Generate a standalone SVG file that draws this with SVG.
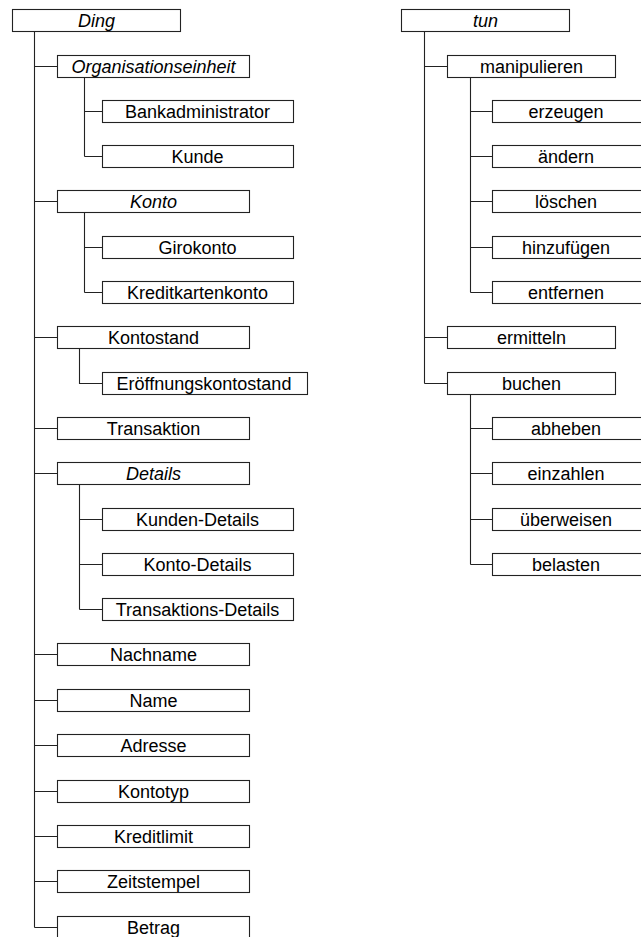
<svg xmlns="http://www.w3.org/2000/svg" width="641" height="937" viewBox="0 0 641 937">
<style>
rect{fill:#fff;stroke:#222;stroke-width:1.1}
text{font-family:"Liberation Sans",Arial,sans-serif;font-size:18px;text-anchor:middle;fill:#000}
.i{font-style:italic}
#connectors path{fill:none;stroke:#222;stroke-width:1.1}
</style>
<rect x="0" y="0" width="641" height="937" style="fill:#fff;stroke:none"/>
<g id="connectors">
<path d="M34.5 31.5V927.5"/>
<path d="M34.5 66.5H57.5M34.5 201.5H57.5M34.5 337.5H57.5M34.5 428.5H57.5M34.5 473.5H57.5M34.5 654.5H57.5M34.5 700.5H57.5M34.5 745.5H57.5M34.5 791.5H57.5M34.5 836.5H57.5M34.5 881.5H57.5M34.5 927.5H57.5"/>
<path d="M84.5 77.5V156.5M84.5 111.5H102.5M84.5 156.5H102.5"/>
<path d="M84.5 212.5V292.5M84.5 247.5H102.5M84.5 292.5H102.5"/>
<path d="M79.5 348.5V383.5H102.5"/>
<path d="M79.5 484.5V609.5M79.5 519.5H102.5M79.5 564.5H102.5M79.5 609.5H102.5"/>
<path d="M424.5 31.5V383.5M424.5 66.5H447.5M424.5 337.5H447.5M424.5 383.5H447.5"/>
<path d="M470.5 77.5V292.5M470.5 111.5H492.5M470.5 156.5H492.5M470.5 201.5H492.5M470.5 247.5H492.5M470.5 292.5H492.5"/>
<path d="M470.5 394.5V564.5M470.5 428.5H492.5M470.5 473.5H492.5M470.5 519.5H492.5M470.5 564.5H492.5"/>
</g>
<g id="ding"><rect x="12.5" y="9.5" width="168" height="22"/><text class="i" x="96.5" y="27">Ding</text></g>
<g id="organisationseinheit"><rect x="57.5" y="55.5" width="192" height="22"/><text class="i" x="153.5" y="73">Organisationseinheit</text></g>
<g id="bankadministrator"><rect x="102.5" y="100.5" width="191" height="22"/><text x="197.5" y="118">Bankadministrator</text></g>
<g id="kunde"><rect x="102.5" y="145.5" width="191" height="22"/><text x="197.5" y="163">Kunde</text></g>
<g id="konto"><rect x="57.5" y="190.5" width="192" height="22"/><text class="i" x="153.5" y="208">Konto</text></g>
<g id="girokonto"><rect x="102.5" y="236.5" width="191" height="22"/><text x="197.5" y="254">Girokonto</text></g>
<g id="kreditkartenkonto"><rect x="102.5" y="281.5" width="191" height="22"/><text x="197.5" y="299">Kreditkartenkonto</text></g>
<g id="kontostand"><rect x="57.5" y="326.5" width="192" height="22"/><text x="153.5" y="344">Kontostand</text></g>
<g id="eroeffnungskontostand"><rect x="102.5" y="372.5" width="205" height="22"/><text x="204" y="390">Eröffnungskontostand</text></g>
<g id="transaktion"><rect x="57.5" y="417.5" width="192" height="22"/><text x="153.5" y="435">Transaktion</text></g>
<g id="details"><rect x="57.5" y="462.5" width="192" height="22"/><text class="i" x="153.5" y="480">Details</text></g>
<g id="kunden-details"><rect x="102.5" y="508.5" width="191" height="22"/><text x="197.5" y="526">Kunden-Details</text></g>
<g id="konto-details"><rect x="102.5" y="553.5" width="191" height="22"/><text x="197.5" y="571">Konto-Details</text></g>
<g id="transaktions-details"><rect x="102.5" y="598.5" width="191" height="22"/><text x="197.5" y="616">Transaktions-Details</text></g>
<g id="nachname"><rect x="57.5" y="643.5" width="192" height="22"/><text x="153.5" y="661">Nachname</text></g>
<g id="name"><rect x="57.5" y="689.5" width="192" height="22"/><text x="153.5" y="707">Name</text></g>
<g id="adresse"><rect x="57.5" y="734.5" width="192" height="22"/><text x="153.5" y="752">Adresse</text></g>
<g id="kontotyp"><rect x="57.5" y="780.5" width="192" height="22"/><text x="153.5" y="798">Kontotyp</text></g>
<g id="kreditlimit"><rect x="57.5" y="825.5" width="192" height="22"/><text x="153.5" y="843">Kreditlimit</text></g>
<g id="zeitstempel"><rect x="57.5" y="870.5" width="192" height="22"/><text x="153.5" y="888">Zeitstempel</text></g>
<g id="betrag"><rect x="57.5" y="916.5" width="192" height="22"/><text x="153.5" y="934">Betrag</text></g>
<g id="tun"><rect x="401.5" y="9.5" width="168" height="22"/><text class="i" x="485.5" y="27">tun</text></g>
<g id="manipulieren"><rect x="447.5" y="55.5" width="168" height="22"/><text x="531.5" y="73">manipulieren</text></g>
<g id="erzeugen"><rect x="492.5" y="100.5" width="191" height="22"/><text x="566" y="118">erzeugen</text></g>
<g id="aendern"><rect x="492.5" y="145.5" width="191" height="22"/><text x="566" y="163">ändern</text></g>
<g id="loeschen"><rect x="492.5" y="190.5" width="191" height="22"/><text x="566" y="208">löschen</text></g>
<g id="hinzufuegen"><rect x="492.5" y="236.5" width="191" height="22"/><text x="566" y="254">hinzufügen</text></g>
<g id="entfernen"><rect x="492.5" y="281.5" width="191" height="22"/><text x="566" y="299">entfernen</text></g>
<g id="ermitteln"><rect x="447.5" y="326.5" width="168" height="22"/><text x="531.5" y="344">ermitteln</text></g>
<g id="buchen"><rect x="447.5" y="372.5" width="168" height="22"/><text x="531.5" y="390">buchen</text></g>
<g id="abheben"><rect x="492.5" y="417.5" width="191" height="22"/><text x="566" y="435">abheben</text></g>
<g id="einzahlen"><rect x="492.5" y="462.5" width="191" height="22"/><text x="566" y="480">einzahlen</text></g>
<g id="ueberweisen"><rect x="492.5" y="508.5" width="191" height="22"/><text x="566" y="526">überweisen</text></g>
<g id="belasten"><rect x="492.5" y="553.5" width="191" height="22"/><text x="566" y="571">belasten</text></g>
</svg>
